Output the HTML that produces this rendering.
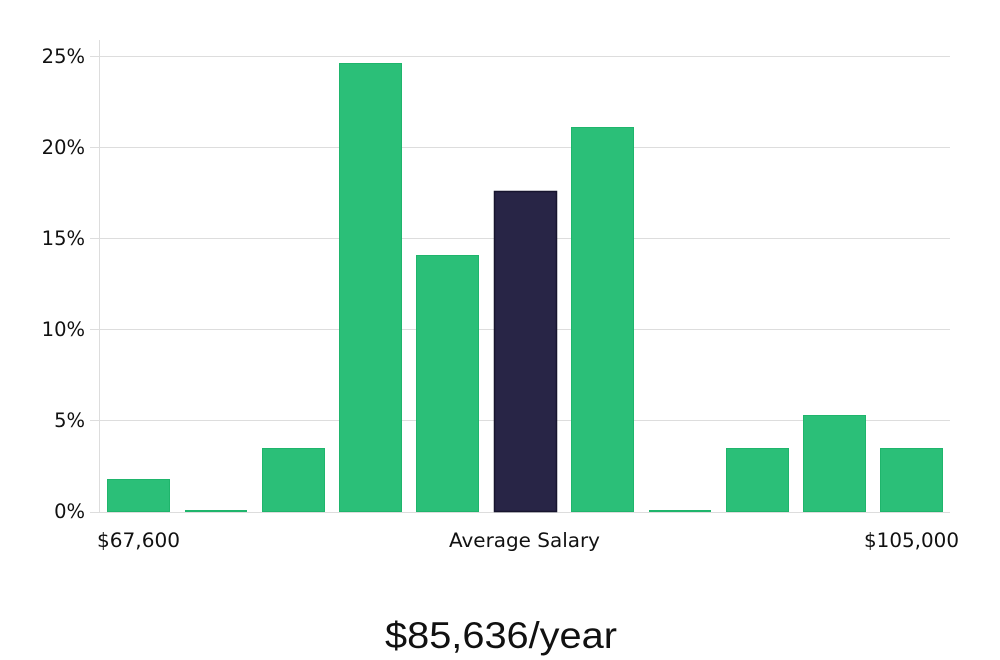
<!DOCTYPE html>
<html><head><style>
html,body{margin:0;padding:0;background:#fff;}
body{width:1000px;height:660px;position:relative;overflow:hidden;font-family:"DejaVu Sans","Liberation Sans",sans-serif;}
</style></head><body>
<svg width="1000" height="660" xmlns="http://www.w3.org/2000/svg" style="position:absolute;left:0;top:0">
<g stroke="#dddddd" stroke-width="1">
<line x1="99" y1="56.5" x2="950" y2="56.5"/>
<line x1="99" y1="147.5" x2="950" y2="147.5"/>
<line x1="99" y1="238.5" x2="950" y2="238.5"/>
<line x1="99" y1="329.5" x2="950" y2="329.5"/>
<line x1="99" y1="420.5" x2="950" y2="420.5"/>
<line x1="90" y1="512.5" x2="950" y2="512.5"/>
<line x1="90" y1="56.5" x2="99" y2="56.5"/>
<line x1="90" y1="147.5" x2="99" y2="147.5"/>
<line x1="90" y1="238.5" x2="99" y2="238.5"/>
<line x1="90" y1="329.5" x2="99" y2="329.5"/>
<line x1="90" y1="420.5" x2="99" y2="420.5"/>
<line x1="99.5" y1="40" x2="99.5" y2="512"/>
</g>
<g font-size="19.5" fill="#111" text-anchor="end">
<text x="85" y="63">25%</text>
<text x="85" y="154">20%</text>
<text x="85" y="245">15%</text>
<text x="85" y="336">10%</text>
<text x="85" y="427">5%</text>
<text x="85" y="518">0%</text>
</g>
<g fill="#2bbf78" stroke="#1fb56c" stroke-width="1">
<rect x="107.5" y="479.5" width="62" height="32"/>
<rect x="185.5" y="510.5" width="61" height="1"/>
<rect x="262.5" y="448.5" width="62" height="63"/>
<rect x="339.5" y="63.5" width="62" height="448"/>
<rect x="416.5" y="255.5" width="62" height="256"/>
<rect x="571.5" y="127.5" width="62" height="384"/>
<rect x="649.5" y="510.5" width="61" height="1"/>
<rect x="726.5" y="448.5" width="62" height="63"/>
<rect x="803.5" y="415.5" width="62" height="96"/>
<rect x="880.5" y="448.5" width="62" height="63"/>
</g>
<rect x="494.5" y="191.5" width="62" height="320" fill="#282546" stroke="#17152e" stroke-width="1.5"/>
<g font-size="19.5" fill="#111">
<text x="97" y="547" textLength="83" lengthAdjust="spacingAndGlyphs">$67,600</text>
<text x="449" y="547" textLength="151" lengthAdjust="spacingAndGlyphs">Average Salary</text>
<text x="864" y="547" textLength="95" lengthAdjust="spacingAndGlyphs">$105,000</text>
</g>
<text x="385" y="648" font-size="37" fill="#111" font-family="Liberation Sans, sans-serif" font-weight="300" textLength="232" lengthAdjust="spacingAndGlyphs">$85,636/year</text>
</svg>
</body></html>
